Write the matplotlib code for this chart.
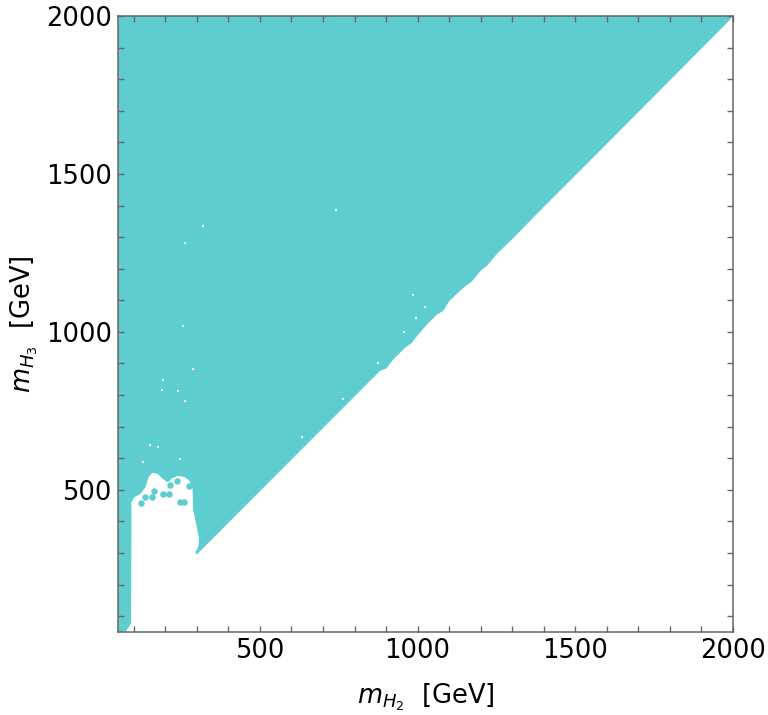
import matplotlib
matplotlib.use("Agg")
import matplotlib.pyplot as plt
from matplotlib.ticker import MultipleLocator

# Allowed-region boundary (mH2, mH3) in GeV, traced counter-clockwise
strip_x = [50, 72, 90, 91, 91]
strip_y = [50, 50, 78, 405, 462]
hole_top_x = [101, 120, 136, 145, 158, 177, 193, 208, 221, 240, 262, 278, 288, 290, 300, 308, 308, 303, 297]
hole_top_y = [478, 488, 510, 540, 556, 552, 536, 526, 538, 546, 542, 530, 508, 437, 392, 350, 328, 312, 303]
diag_x = [300, 600, 880, 900, 920, 960, 980, 1000, 1030, 1060, 1080, 1100, 1130, 1150,
          1170, 1200, 1220, 1250, 1300, 1400, 1600, 1990, 1995]
diag_y = [298, 598, 878, 886, 912, 952, 966, 992, 1026, 1056, 1068, 1100, 1128, 1146,
          1160, 1196, 1212, 1248, 1296, 1398, 1598, 1990, 2000]
top_x = [50]
top_y = [2000]

# isolated allowed points inside the excluded pocket
dot_x = [122, 136, 159, 165, 192, 213, 215, 236, 247, 259, 276]
dot_y = [458, 476, 476, 495, 488, 488, 516, 527, 463, 463, 511]

# small excluded specks inside the allowed region
speck_x = [190, 240, 262, 288, 193, 256, 129, 247, 152, 177, 262, 320, 741, 985, 1023,
           995, 957, 874, 633, 763, 767]
speck_y = [817, 814, 782, 884, 849, 1020, 589, 599, 643, 637, 1280, 1334, 1385, 1118,
           1080, 1045, 1001, 903, 668, 789, 1999]

color = "#5ecdcf"

fig = plt.figure(figsize=(7.68, 7.15), dpi=100)
ax = fig.add_axes([0.1536, 0.1161, 0.8008, 0.8615])

bx = strip_x + hole_top_x + diag_x + top_x
by = strip_y + hole_top_y + diag_y + top_y
ax.fill(bx, by, color=color, lw=0.8, ec=color, zorder=1)
ax.scatter(dot_x, dot_y, s=22, color=color, lw=0, zorder=2)
ax.scatter(speck_x, speck_y, s=2.0, color="white", lw=0, marker="s", zorder=3)

ax.set_xlim(50, 2000)
ax.set_ylim(50, 2000)

frame_c = "#666666"
for sp in ax.spines.values():
    sp.set_color(frame_c)
    sp.set_linewidth(1.1)
    sp.set_zorder(5)

ax.xaxis.set_major_locator(MultipleLocator(500))
ax.yaxis.set_major_locator(MultipleLocator(500))
ax.xaxis.set_minor_locator(MultipleLocator(100))
ax.yaxis.set_minor_locator(MultipleLocator(100))
ax.tick_params(which="both", direction="in", top=True, right=True, color=frame_c,
               width=1.0, length=4, labelsize=18.5, pad=4.5)
ax.tick_params(which="minor", length=4)

ax.set_xlabel(r"$m_{H_2}$  [GeV]", fontsize=18.5, labelpad=12)
ax.set_ylabel(r"$m_{H_3}$  [GeV]", fontsize=18.5, labelpad=4)

fig.savefig("out.png", dpi=100)
